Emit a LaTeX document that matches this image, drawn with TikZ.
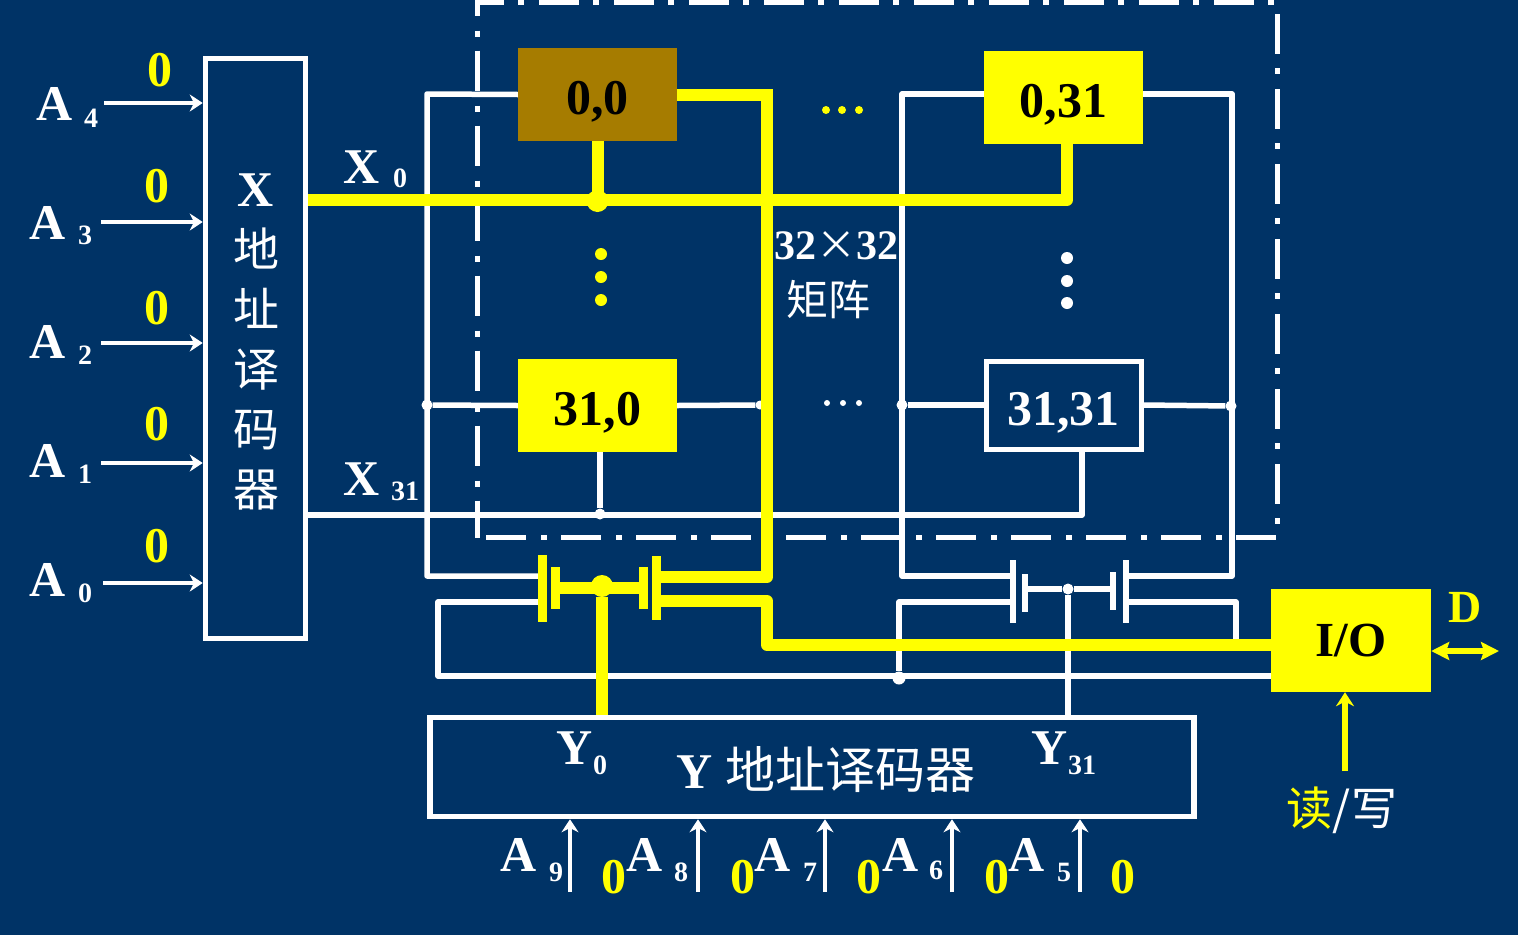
\documentclass[tikz,border=0pt]{standalone}
\usepackage{fontspec}
\usepackage{xcolor}
\usepackage{tikz}
\usetikzlibrary{arrows.meta,positioning}
\setmainfont{Liberation Serif}
\newfontfamily\cjkfont{Noto Sans CJK SC}
\definecolor{slideblue}{RGB}{0,51,102}
\definecolor{lineyellow}{RGB}{255,255,0}
\definecolor{cellbrown}{RGB}{166,124,0}
\newcommand{\fs}[1]{\fontsize{#1}{#1}\selectfont}

\begin{document}
\begin{tikzpicture}[
    x=1pt, y=-1pt,
    wire/.style={draw=white, line width=5.5pt, line join=round},
    hot/.style={draw=lineyellow, line width=12pt, line join=round},
    inarr/.style={draw=white, line width=4.5pt, -{Stealth[length=13pt, width=17pt]}},
    cell/.style={rectangle, minimum width=159pt, minimum height=93pt, inner sep=0pt,
                 font=\bfseries\fs{50}, text=black, text height=40pt, text depth=0pt},
    decbox/.style={rectangle, draw=white, line width=5.5pt, inner sep=0pt},
    big/.style={inner sep=0pt, text=white, font=\bfseries\fs{50}},
    small/.style={inner sep=0pt, text=white, font=\bfseries\fs{28}},
    zero/.style={inner sep=0pt, text=lineyellow, font=\bfseries\fs{50}},
    plate/.style={rectangle, fill=white, inner sep=0pt, minimum width=6pt},
    hotplate/.style={rectangle, fill=lineyellow, inner sep=0pt, minimum width=9pt},
    jdot/.style={circle, fill=white, inner sep=0pt, minimum size=11pt},
    bigdot/.style={circle, fill=#1, inner sep=0pt, minimum size=12pt},
    tinydot/.style={circle, fill=#1, inner sep=0pt, minimum size=8pt},
]
    \useasboundingbox (0,0) rectangle (1518,935);
    \fill[slideblue] (0,0) rectangle (1518,935);

    % memory matrix frame
    \draw[white, line width=5pt, dash pattern=on 40pt off 15pt on 6pt off 14pt]
        (486,537.5) -- (1277,537.5) -- (1277,2) -- (477,2) -- (477,537.5);

    % decoders and cells
    \node[decbox, minimum width=100pt, minimum height=580pt] (xdec) at (255.5,348.5) {};
    \node[decbox, minimum width=764pt, minimum height=99pt] (ydec) at (812,767) {};
    \node[cell, fill=cellbrown] (c00) at (597.5,94.5) {0,0};
    \node[cell, fill=lineyellow] (c031) at (1063.5,97.5) {0,31};
    \node[cell, fill=lineyellow] (c310) at (597.5,405.5) {31,0};
    \node[cell, draw=white, line width=5pt, text=white, minimum width=155pt, minimum height=88pt] (c3131) at (1063.5,405) {31,31};
    \node[rectangle, fill=lineyellow, minimum width=160pt, minimum height=103pt, inner sep=0pt,
          font=\bfseries\fs{49}, text=black] (io) at (1351,640.5) {I/O};

    % pass transistors
    \node[plate, minimum height=63pt] (p1a) at (1013,591.5) {};
    \node[plate, minimum height=38pt] (p1b) at (1025,593) {};
    \node[plate, minimum height=38pt] (p1c) at (1113,591) {};
    \node[plate, minimum height=63pt] (p1d) at (1126,591.5) {};
    \node[hotplate, minimum height=67pt] (p0a) at (542.5,588.5) {};
    \node[hotplate, minimum height=42pt] (p0b) at (555.5,588) {};
    \node[hotplate, minimum height=42pt] (p0c) at (643.5,588) {};
    \node[hotplate, minimum height=64pt] (p0d) at (656.5,588) {};

    % junctions
    \node[jdot] (j1) at (427,405) {};
    \node[jdot, minimum size=9pt] (j2) at (760,405) {};
    \node[jdot] (j3) at (902,405) {};
    \node[jdot] (j4) at (1231,406) {};
    \node[jdot] (j5) at (600,514) {};
    \node[jdot, minimum size=11pt] (j6) at (1068,589) {};
    \node[jdot, minimum size=13pt] (j7) at (899,678) {};
    \coordinate (x31s) at (308,515);
    \coordinate (busl) at (438,676);

    % white lines
    \draw[wire] (c00.west) -- (427,94) -- (427,576) -- ([yshift=12.5pt]p0a.west);
    \draw[wire] (j1) -- (c310.west);
    \draw[wire] (c310.east) -- (j2);
    \draw[wire] (c031.west |- 0,94) -- (902,94) -- (902,576) -- ([yshift=15.5pt]p1a.west);
    \draw[wire] (j3) -- (c3131.west);
    \draw[wire] (c031.east |- 0,94) -- (1232,94) -- (1232,576) -- ([yshift=15.5pt]p1d.east);
    \draw[wire] (c3131.east) -- (j4);
    \draw[wire] (xdec.east |- x31s) -- (1082,515) -- (1082,451);
    \draw[wire] (j5) -- (600,452);
    \draw[wire] ([yshift=-13.5pt]p0a.west) -- (438,602) -- (busl) -- (io.west |- busl);
    \draw[wire] ([yshift=-10.5pt]p1a.west) -- (899,602) -- (j7);
    \draw[wire] ([yshift=-10.5pt]p1d.east) -- (1236,602) -- (1236,645);
    \draw[wire] (p1b.east |- j6) -- (j6) -- (p1c.west |- j6);
    \draw[wire] (j6) -- (j6 |- ydec.north);

    % selected path
    \draw[hot] (xdec.east |- 0,200) -- (1067,200) -- (c031.south -| 1067,0);
    \draw[hot] (c00.south) -- (597.5,201);
    \node[bigdot=lineyellow, minimum size=22pt] (j8) at (597.5,201) {};
    \draw[hot, line join=miter] (c00.east) -- (767,94.5) -- (767,300);
    \draw[hot] (767,300) -- (767,577) -- ([yshift=11pt]p0d.east);
    \draw[hot] ([yshift=-13pt]p0d.east) -- (767,601) -- (767,645) -- (io.west |- 0,645);
    \draw[hot] (p0b.east) -- (p0c.west);
    \node[bigdot=lineyellow, minimum size=22pt] (j9) at (602,586) {};
    \draw[hot] (j9) -- (j9 |- ydec.north);

    % address inputs, X side
    \coordinate (a4s) at (104,103);
    \coordinate (a3s) at (101,222);
    \coordinate (a2s) at (101,343);
    \coordinate (a1s) at (101,463);
    \coordinate (a0s) at (103,583);
    \draw[inarr] (a4s) -- (xdec.west |- a4s);
    \draw[inarr] (a3s) -- (xdec.west |- a3s);
    \draw[inarr] (a2s) -- (xdec.west |- a2s);
    \draw[inarr] (a1s) -- (xdec.west |- a1s);
    \draw[inarr] (a0s) -- (xdec.west |- a0s);
    \node[big] (la4) at (55,104) {A};
    \node[small] (sa4) at (91,118) {4};
    \node[big] (la3) at (48,223) {A};
    \node[small] (sa3) at (85,235) {3};
    \node[big] (la2) at (48,342) {A};
    \node[small] (sa2) at (85,355) {2};
    \node[big] (la1) at (48,461) {A};
    \node[small] (sa1) at (85,474) {1};
    \node[big] (la0) at (48,580) {A};
    \node[small] (sa0) at (85,593) {0};
    \node[zero] (z4) at (160,70) {0};
    \node[zero] (z3) at (157,186) {0};
    \node[zero] (z2) at (157,308) {0};
    \node[zero] (z1) at (157,424) {0};
    \node[zero] (z0) at (157,546) {0};

    % address inputs, Y side
    \coordinate (a9s) at (570,892);
    \coordinate (a8s) at (698,892);
    \coordinate (a7s) at (825,892);
    \coordinate (a6s) at (952,892);
    \coordinate (a5s) at (1080,892);
    \draw[inarr] (a9s) -- (a9s |- ydec.south);
    \draw[inarr] (a8s) -- (a8s |- ydec.south);
    \draw[inarr] (a7s) -- (a7s |- ydec.south);
    \draw[inarr] (a6s) -- (a6s |- ydec.south);
    \draw[inarr] (a5s) -- (a5s |- ydec.south);
    \node[big] (la9) at (519,855) {A};
    \node[small] (sa9) at (556,872) {9};
    \node[zero] (z9) at (614,877) {0};
    \node[big] (la8) at (645,855) {A};
    \node[small] (sa8) at (681,872) {8};
    \node[zero] (z8) at (743,877) {0};
    \node[big] (la7) at (773,855) {A};
    \node[small] (sa7) at (810,872) {7};
    \node[zero] (z7) at (869,877) {0};
    \node[big] (la6) at (901,855) {A};
    \node[small] (sa6) at (936,870) {6};
    \node[zero] (z6) at (997,877) {0};
    \node[big] (la5) at (1027,855) {A};
    \node[small] (sa5) at (1064,872) {5};
    \node[zero] (z5) at (1123,877) {0};

    % labels
    \node[inner sep=0pt, text=white, align=center, font=\fs{46}, text width=60pt,
          execute at begin node={\baselineskip=60pt}] (xname) at (256,342)
        {{\bfseries\fs{50}X}\\\cjkfont 地\\址\\译\\码\\器};
    \node[inner sep=0pt, text=white, font=\fs{50}] (yname) at (826,770)
        {{\bfseries Y} {\cjkfont 地址译码器}};
    \node[big] (lx0) at (362,167) {X};
    \node[small] (sx0) at (400,178) {0};
    \node[big] (lx31) at (362,479) {X};
    \node[small] (sx31) at (405,491) {31};
    \node[big] (ly0) at (575,748) {Y};
    \node[small] (sy0) at (600,765) {0};
    \node[big] (ly31) at (1050,748) {Y};
    \node[small] (sy31) at (1082,765) {31};
    \node[inner sep=0pt, text=white, font=\bfseries\fs{42}] (msize) at (836,246) {32{\normalfont\cjkfont\fs{40}×}32};
    \node[inner sep=0pt, text=white, font=\cjkfont\fs{42}] (mname) at (828,300) {矩阵};

    % I/O side
    \node[zero, font=\bfseries\fs{46}] (ld) at (1465,607) {D};
    \coordinate (dend) at (1499,651);
    \draw[draw=lineyellow, line width=6pt, {Stealth[length=18pt, width=18pt, inset=3pt]}-{Stealth[length=18pt, width=18pt, inset=3pt]}] (io.east |- dend) -- (dend);
    \coordinate (rws) at (1345,771);
    \draw[draw=lineyellow, line width=6pt, -{Stealth[length=14pt, width=18pt]}] (rws) -- (io.south -| rws);
    \node[inner sep=0pt, text=white, font=\cjkfont\fs{46}] (rw) at (1342,810)
        {\textcolor{lineyellow}{读}/写};

    % ellipsis dots
    \node[tinydot=lineyellow] (e1) at (826,110) {};
    \node[tinydot=lineyellow] (e2) at (842,110) {};
    \node[tinydot=lineyellow] (e3) at (859,110) {};
    \node[tinydot=white, minimum size=6pt] (e4) at (827,403) {};
    \node[tinydot=white, minimum size=6pt] (e5) at (843,403) {};
    \node[tinydot=white, minimum size=6pt] (e6) at (859,403) {};
    \node[bigdot=lineyellow] (e7) at (601,254) {};
    \node[bigdot=lineyellow] (e8) at (601,277) {};
    \node[bigdot=lineyellow] (e9) at (601,300) {};
    \node[bigdot=white] (e10) at (1067,258) {};
    \node[bigdot=white] (e11) at (1067,281) {};
    \node[bigdot=white] (e12) at (1067,303) {};
\end{tikzpicture}
\end{document}
